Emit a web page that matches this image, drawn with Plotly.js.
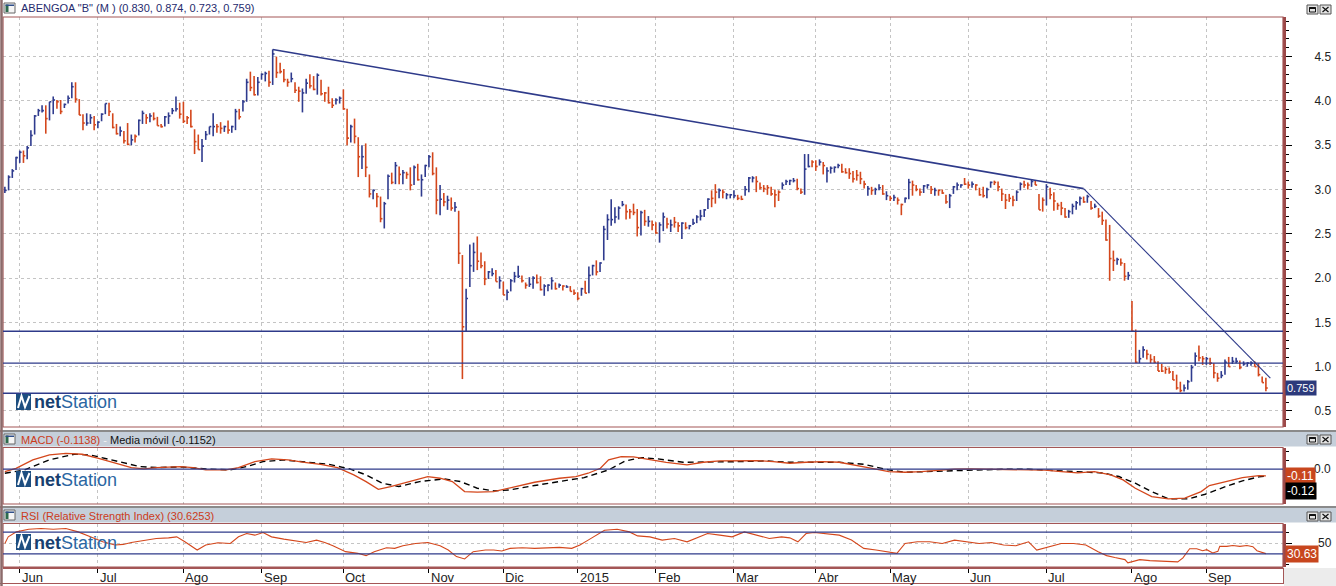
<!DOCTYPE html>
<html><head><meta charset="utf-8">
<script src="https://cdn.plot.ly/plotly-3.0.1.min.js"></script>
<style>html,body{margin:0;padding:0;background:#fff;overflow:hidden}#chart{width:1336px;height:586px}</style>
</head><body><div id="chart"></div>
<script>
// ---------- DATA ----------
const highs = [
3.03,3.16,3.23,3.37,3.44,3.44,3.49,3.67,3.84,3.91,
3.95,3.95,3.99,4.05,4.01,4.01,3.97,4.06,4.21,4.21,
4.02,3.85,3.86,3.85,3.83,3.77,3.86,3.97,3.98,3.86,
3.74,3.71,3.66,3.75,3.62,3.62,3.79,3.89,3.85,3.86,
3.87,3.82,3.74,3.83,3.87,3.92,4.05,3.98,3.99,3.83,
3.90,3.68,3.62,3.57,3.66,3.71,3.86,3.74,3.76,3.72,
3.78,3.72,3.91,3.91,4.01,4.25,4.33,4.28,4.27,4.31,
4.33,4.34,4.58,4.50,4.43,4.36,4.25,4.32,4.21,4.16,
4.14,4.25,4.30,4.28,4.31,4.24,4.10,4.16,4.03,4.03,
4.05,4.13,3.91,3.73,3.80,3.59,3.50,3.52,3.17,3.00,
2.96,2.92,2.86,3.17,3.19,3.31,3.26,3.22,3.20,3.25,
3.27,3.29,3.17,3.28,3.39,3.42,3.25,3.05,2.96,2.93,
2.91,2.86,2.76,2.26,1.88,2.38,2.40,2.47,2.29,2.19,
2.08,2.11,2.09,2.02,1.96,1.87,1.99,2.07,2.14,2.03,
1.95,2.01,2.02,2.04,2.02,1.93,1.93,2.01,1.95,1.94,
1.92,1.92,1.91,1.87,1.84,1.89,1.97,2.13,2.15,2.20,
2.18,2.59,2.72,2.89,2.80,2.81,2.87,2.83,2.78,2.84,
2.78,2.76,2.77,2.70,2.65,2.63,2.63,2.74,2.68,2.66,
2.69,2.63,2.63,2.63,2.60,2.67,2.71,2.77,2.78,2.90,
2.99,3.06,3.01,3.00,2.96,2.95,2.99,2.94,2.93,3.04,
3.14,3.15,3.15,3.08,3.05,3.05,3.03,3.00,2.99,3.08,
3.11,3.11,3.13,3.12,3.01,3.40,3.40,3.33,3.33,3.34,
3.31,3.25,3.26,3.26,3.29,3.29,3.24,3.24,3.21,3.22,
3.20,3.10,3.04,3.03,3.02,3.06,3.05,2.98,2.93,2.94,
2.91,2.84,2.91,3.12,3.10,3.05,3.01,3.05,3.06,3.04,
3.02,3.00,3.00,2.94,2.95,3.04,3.08,3.06,3.13,3.09,
3.09,3.06,3.02,3.03,3.02,3.09,3.10,3.09,3.01,2.95,
2.95,2.93,2.99,3.08,3.10,3.08,3.11,3.10,2.95,2.91,
3.06,3.02,2.97,2.85,2.86,2.79,2.77,2.84,2.87,2.92,
2.92,2.94,2.87,2.84,2.79,2.75,2.66,2.60,2.31,2.23,
2.22,2.17,2.07,1.74,1.42,1.19,1.23,1.19,1.14,1.12,
1.06,1.03,1.00,0.99,0.95,0.91,0.83,0.80,0.85,1.02,
1.16,1.24,1.12,1.11,1.10,1.04,0.93,0.95,1.08,1.11,
1.11,1.10,1.07,1.06,1.05,1.06,1.06,1.04,0.89,0.874];
const lows = [
2.96,2.99,3.13,3.22,3.30,3.30,3.34,3.49,3.62,3.83,
3.87,3.63,3.78,3.85,3.91,3.85,3.92,3.97,4.03,3.98,
3.84,3.67,3.72,3.74,3.67,3.69,3.77,3.85,3.83,3.69,
3.62,3.60,3.52,3.50,3.50,3.53,3.61,3.74,3.74,3.76,
3.78,3.72,3.70,3.71,3.74,3.85,3.88,3.80,3.75,3.74,
3.70,3.40,3.45,3.31,3.56,3.62,3.60,3.64,3.63,3.65,
3.63,3.64,3.67,3.79,3.88,3.99,4.11,4.06,4.06,4.24,
4.22,4.16,4.18,4.26,4.31,4.21,4.16,4.21,4.09,3.99,
3.87,4.08,4.14,4.12,4.07,4.06,3.99,3.97,3.92,3.96,
3.97,3.90,3.50,3.53,3.52,3.14,3.23,3.14,2.91,2.89,
2.80,2.63,2.56,2.89,3.06,3.06,3.06,3.06,3.12,2.99,
3.05,3.10,2.92,3.14,3.25,3.16,2.72,2.71,2.81,2.77,
2.76,2.75,2.16,0.86,1.40,1.90,2.07,2.09,2.11,1.92,
1.99,2.02,1.96,1.88,1.81,1.75,1.85,1.95,2.00,1.95,
1.88,1.90,1.88,1.94,1.86,1.80,1.85,1.87,1.87,1.89,
1.86,1.89,1.85,1.81,1.75,1.80,1.83,1.83,2.03,2.03,
2.07,2.20,2.43,2.59,2.62,2.66,2.81,2.66,2.67,2.71,
2.47,2.48,2.59,2.58,2.54,2.50,2.40,2.53,2.56,2.52,
2.57,2.52,2.44,2.55,2.55,2.60,2.62,2.65,2.69,2.78,
2.80,2.84,2.90,2.90,2.89,2.90,2.90,2.88,2.88,2.93,
2.97,3.08,2.97,3.00,2.97,2.94,2.93,2.80,2.87,3.00,
3.05,3.05,3.08,2.99,2.95,2.94,3.25,3.25,3.21,3.27,
3.17,3.08,3.18,3.19,3.24,3.19,3.18,3.12,3.08,3.10,
3.06,3.01,2.93,2.94,2.94,2.99,2.94,2.88,2.87,2.87,
2.83,2.71,2.85,2.89,2.93,2.98,2.93,2.96,3.01,2.95,
2.93,2.93,2.95,2.84,2.79,2.95,2.99,3.02,3.05,3.01,
3.02,2.99,2.93,2.91,2.90,3.02,3.05,2.98,2.87,2.78,
2.86,2.81,2.87,2.99,3.02,3.00,3.03,3.05,2.77,2.75,
2.82,2.89,2.76,2.77,2.71,2.68,2.68,2.72,2.77,2.82,
2.85,2.85,2.77,2.79,2.68,2.60,2.42,1.97,2.08,2.15,
2.14,1.97,1.98,1.40,1.04,1.04,1.10,1.08,1.04,1.04,
0.95,0.94,0.92,0.92,0.85,0.74,0.71,0.72,0.74,0.83,
1.01,1.06,1.02,1.02,1.02,0.87,0.83,0.87,0.91,1.00,
1.03,1.04,0.97,1.01,1.00,1.01,1.00,0.89,0.82,0.723];
const closes = [
2.99,3.14,3.21,3.36,3.42,3.38,3.47,3.61,3.83,3.89,
3.89,3.80,3.99,4.01,3.99,3.88,3.96,4.03,4.16,4.02,
3.84,3.75,3.75,3.81,3.73,3.76,3.85,3.97,3.88,3.70,
3.63,3.66,3.55,3.51,3.56,3.60,3.78,3.86,3.81,3.83,
3.80,3.72,3.71,3.82,3.83,3.89,3.91,3.85,3.77,3.81,
3.71,3.54,3.45,3.49,3.62,3.71,3.71,3.71,3.69,3.71,
3.67,3.71,3.88,3.82,3.99,4.21,4.15,4.07,4.21,4.30,
4.31,4.21,4.53,4.32,4.33,4.24,4.21,4.25,4.12,4.11,
4.09,4.20,4.17,4.13,4.29,4.08,4.09,3.98,3.95,4.01,
4.03,3.91,3.58,3.71,3.60,3.37,3.37,3.25,2.95,2.99,
2.92,2.67,2.84,3.15,3.08,3.27,3.17,3.19,3.17,3.05,
3.25,3.11,3.11,3.27,3.37,3.18,2.88,2.89,2.86,2.88,
2.79,2.80,2.28,1.45,1.77,2.14,2.29,2.19,2.14,1.99,
2.07,2.05,1.96,1.97,1.81,1.84,1.97,2.02,2.02,1.97,
1.92,1.93,2.00,1.95,1.87,1.91,1.92,1.97,1.88,1.92,
1.91,1.90,1.85,1.83,1.77,1.88,1.83,2.03,2.14,2.07,
2.17,2.55,2.66,2.66,2.69,2.79,2.83,2.75,2.75,2.74,
2.57,2.74,2.64,2.64,2.60,2.51,2.60,2.69,2.61,2.60,
2.63,2.59,2.62,2.57,2.59,2.62,2.69,2.70,2.77,2.89,
2.90,2.97,2.99,2.97,2.94,2.94,2.93,2.90,2.89,3.00,
3.13,3.13,3.09,3.02,3.01,3.02,2.95,2.94,2.97,3.05,
3.09,3.10,3.10,3.01,2.97,3.23,3.26,3.31,3.26,3.31,
3.27,3.21,3.24,3.25,3.27,3.20,3.19,3.18,3.12,3.16,
3.12,3.06,3.01,2.99,3.00,3.02,2.95,2.93,2.90,2.91,
2.88,2.83,2.90,3.08,3.05,3.00,2.97,3.04,3.05,3.00,
2.99,2.99,2.96,2.86,2.93,3.03,3.05,3.05,3.06,3.05,
3.06,3.05,2.94,2.93,3.00,3.08,3.08,3.03,2.95,2.88,
2.90,2.88,2.97,3.06,3.05,3.05,3.09,3.05,2.77,2.88,
3.03,2.94,2.87,2.82,2.79,2.69,2.75,2.81,2.85,2.90,
2.86,2.92,2.79,2.81,2.70,2.65,2.43,2.22,2.20,2.21,
2.17,2.02,2.03,1.40,1.05,1.09,1.19,1.14,1.08,1.05,
0.95,0.95,0.97,0.94,0.85,0.76,0.73,0.76,0.83,0.99,
1.12,1.10,1.09,1.09,1.04,0.93,0.87,0.90,1.05,1.00,
1.06,1.06,0.99,1.03,1.04,1.04,1.00,0.91,0.82,0.759];
// bar colour: u = blue, d = red
const barDir = ["uuuuuduuuu","uduudduuud","dduuduuudd","dudduduudu","ddduuuuddd",
"ddduuuuddu","duuduudduu","ududdddudd","uudduddddu","uddudduddu",
"dduudududd","uduuuddudu","dudduuuddd","uududuuuud","duudduuudu",
"duddduduud","uuuuuuuddd","dududduudu","dduduuuuuu","dduduuuddu",
"uudddddddu","uuudduuddu","duuuuddddd","dduduududu","dduuddduud",
"uddduuuudd","uddduudddd","dduudduddd","uddddduuuu","dudu"+"ddddd"+"u",
"ddudduuddd","ddddddduuu","udduddduud","uuduuudddd"].join('');

const monthTickIdx = [4, 25, 48, 69, 91, 114, 134, 154, 175, 196, 218, 238, 259, 280, 303, 323];
const monthLabels = ["Jun","Jul","Ago","Sep","Oct","Nov","Dic","2015","Feb","Mar","Abr","May","Jun","Jul","Ago","Sep"];

const trend1X = [72, 290], trend1Y = [4.58, 3.01];
const trend2X = [290, 340.2], trend2Y = [3.01, 0.87];
const levels = [1.40, 1.04, 0.70];

const macdX = [0,3,7.5,12,16.4,20.8,25.2,29.6,34,37.4,40.7,47.3,50.6,54,59.5,62.8,67.2,71.7,76.1,80.5,84.9,89.4,93.8,97.1,100.4,103.7,108.2,113.7,117,120.3,123.6,127,131.4,136.9,142.4,149.1,153.5,156.8,160.1,162.3,165.7,169,173.4,177.8,183.4,187.8,192.2,197.7,202.2,206.6,211,215.4,219.9,224.3,228.7,233.1,237.6,242,246.4,250.8,255.3,259.7,264.1,268.5,275.2,279.6,284,288.4,292.9,297.3,300.6,303.9,308.3,312.8,317.2,321.6,323.8,328.2,332.7,337.1,339];
const macdVal = [-0.04,0.016,0.158,0.242,0.27,0.254,0.186,0.101,0.028,0.005,0.028,0.045,0.028,-0.012,-0.012,0.028,0.129,0.175,0.158,0.118,0.084,0.028,-0.096,-0.21,-0.34,-0.294,-0.221,-0.125,-0.153,-0.21,-0.379,-0.39,-0.379,-0.294,-0.221,-0.153,-0.125,-0.068,0.016,0.158,0.214,0.209,0.158,0.118,0.073,0.118,0.141,0.141,0.146,0.129,0.101,0.118,0.129,0.118,0.073,0.016,-0.04,-0.051,-0.04,-0.017,0,0.005,0,0.005,0,-0.017,-0.04,-0.063,-0.04,-0.096,-0.181,-0.323,-0.464,-0.503,-0.492,-0.379,-0.277,-0.21,-0.142,-0.108,-0.114];
const sigX = [0,5.3,11.9,18.6,23,27.4,31.8,36.3,40.7,47.3,54,60.6,65,69.4,75,80.5,87.1,92.7,97.1,101.5,105.9,111.5,118.1,122.5,127,131.4,135.8,142.4,149.1,155.7,162.3,166.8,171.2,175.6,182.3,188.9,197.7,204.4,211,217.6,224.3,230.9,237.6,242,248.6,255.3,261.9,268.5,275.2,281.8,288.4,295.1,299.5,303.9,308.3,312.8,318.3,322.7,328.2,332.7,337.1,339];
const sigVal = [-0.068,-0.012,0.158,0.254,0.242,0.175,0.101,0.045,0.028,0.039,0.005,-0.012,0.045,0.129,0.158,0.129,0.084,0.005,-0.096,-0.238,-0.294,-0.21,-0.164,-0.21,-0.323,-0.368,-0.351,-0.277,-0.21,-0.142,-0.012,0.141,0.197,0.175,0.118,0.118,0.129,0.141,0.118,0.118,0.118,0.084,-0.012,-0.051,-0.04,-0.017,-0.006,0,0,-0.017,-0.04,-0.063,-0.124,-0.238,-0.379,-0.503,-0.503,-0.424,-0.294,-0.198,-0.13,-0.115];

const rsiX = [0,0.9,3.1,6.4,9.7,13,16.4,19.7,23,26.3,29.6,31.8,34,37.4,40.7,44,46.2,48.4,51.7,54,57.3,60.6,62.8,65,67.2,69.4,71.7,75,78.3,81,83.8,86,88.2,91.6,94.9,97.1,99.3,102.6,104.8,107,110.4,113.7,117,119.2,121.4,123.6,125.9,129.2,131.4,133.6,135.8,139.1,142.4,145.8,149.1,152.4,154.6,156.8,159,161.2,164.6,167.9,170.1,173.4,176.7,180,183.4,186.7,188.9,192.2,195.5,198.8,202.2,205.5,208.8,211,213.2,215.4,217.6,221,224.3,227.6,230.9,234.2,237.6,239.8,242,245.3,248.6,252,255.3,258.6,261.9,265.2,268.5,271.8,275.2,277.4,280.7,284,287.3,290.6,293.9,296.2,298.4,301.1,301.9,303.2,305.1,307.8,312.4,315.3,316.7,317.7,318.5,320.4,322,323.1,324.7,326.1,326.6,328.5,330.1,332,333.9,335.5,336.6,339];
const rsiVal = [49.3,61.4,70.5,75.4,76.6,75.4,76.6,70.5,61.4,52.3,46.3,47.5,51.1,55.4,58.4,59.6,61.4,52.3,37.2,46.3,50.5,49.3,61.4,67.5,64.5,69.3,61.4,57.2,53.6,51.1,55.4,51.1,45.1,34.2,31.1,26.9,34.2,41.4,40.2,45.1,49.3,51.1,45.1,37.2,25.1,20.8,34.2,37.2,37.2,35.4,40.2,41.4,40.2,41.4,42.0,40.2,46.3,55.4,64.5,73.5,75.4,70.5,63.2,61.4,55.4,58.4,52.3,61.4,67.5,64.5,61.4,70.5,64.5,58.4,61.4,59.6,52.3,67.5,69.3,67.5,64.5,55.4,40.2,37.2,34.2,31.1,49.3,52.3,52.3,49.3,55.4,52.3,49.3,51.1,46.3,45.1,52.3,37.2,43.3,49.3,49.3,46.3,34.2,26.9,23.3,19.6,13.6,16.5,19.6,17.8,16.5,15.5,22.7,31.8,39.6,39.6,36,37.8,31.8,34.7,43.9,43.9,45.6,43.9,45.6,43.3,36,30.6];

const macdTickVals = [0], macdTickText = ['0.0'];
const rsiTickVals = [50], rsiTickText = ['50'];

// ---------- DRAWING ----------
const W = 1336, H = 586;
const px = x => x / W, py = y => 1 - y / H;
const FONT = 'Liberation Sans, Arial, sans-serif';
const UP = '#2f3b8e', DOWN = '#d4471c', NAVY = '#2e3a8a', FRAME = '#a45656';
const XR = [-0.5, 343.6];
const PAD = '\u00a0'.repeat(6);

function barTrace(dirChar, color) {
  const xs = [], ys = [];
  for (let i = 0; i < closes.length; i++) {
    let d = barDir[i] || (i > 0 && closes[i] < closes[i-1] ? 'd' : 'u');
    if (d !== dirChar) continue;
    xs.push(i, i, null, i, i + 0.5, null);
    ys.push(lows[i], highs[i], null, closes[i], closes[i], null);
  }
  return {type:'scatter', mode:'lines', x:xs, y:ys, xaxis:'x', yaxis:'y',
          line:{color:color, width:1.6}, hoverinfo:'skip', connectgaps:false};
}

const traces = [
  barTrace('u', UP), barTrace('d', DOWN),
  {type:'scatter', mode:'lines', x:trend1X, y:trend1Y, xaxis:'x', yaxis:'y', line:{color:NAVY, width:1.6}, hoverinfo:'skip'},
  {type:'scatter', mode:'lines', x:trend2X, y:trend2Y, xaxis:'x', yaxis:'y', line:{color:NAVY, width:1.1}, hoverinfo:'skip'},
  {type:'scatter', mode:'lines', x:sigX, y:sigVal, xaxis:'x2', yaxis:'y2', line:{color:'#000', width:1.4, dash:'6px,4px'}, hoverinfo:'skip'},
  {type:'scatter', mode:'lines', x:macdX, y:macdVal, xaxis:'x2', yaxis:'y2', line:{color:'#d4471c', width:1.3}, hoverinfo:'skip'},
  {type:'scatter', mode:'lines', x:rsiX, y:rsiVal, xaxis:'x3', yaxis:'y3', line:{color:'#d4471c', width:1.1}, hoverinfo:'skip'}
];

const xdom = [px(3), px(1283)];
const gridX = {range:XR, domain:xdom, tickvals:monthTickIdx, showgrid:true, gridcolor:'#c4c4c4', griddash:'3px,3px', gridwidth:1, zeroline:false, showline:false, fixedrange:true};
const yCommon = {side:'right', ticks:'outside', ticklen:6, tickcolor:'#000', tickwidth:1, showline:true, linecolor:'#9c4848', linewidth:3, zeroline:false, fixedrange:true,
  tickfont:{size:12, color:'#222', family:FONT}};

const layout = {
  width:W, height:H, margin:{l:0, r:0, t:0, b:0}, showlegend:false,
  paper_bgcolor:'#ffffff', plot_bgcolor:'rgba(0,0,0,0)', font:{family:FONT, size:11, color:'#222'},
  xaxis: Object.assign({}, gridX, {anchor:'y', showticklabels:false, ticks:''}),
  xaxis2: Object.assign({}, gridX, {anchor:'y2', showticklabels:false, ticks:''}),
  xaxis3: Object.assign({}, gridX, {anchor:'y3', showticklabels:false, ticks:'outside', ticklen:5, tickcolor:'#000'}),
  yaxis: Object.assign({}, yCommon, {anchor:'x', domain:[py(427), py(17)], range:[0.319, 4.947], tick0:0, dtick:0.5, tickformat:'.1f', tickprefix:PAD,
          showgrid:true, gridcolor:'#c4c4c4', griddash:'3px,3px',
          minor:{dtick:0.1, tick0:0, ticks:'outside', ticklen:3, tickcolor:'#000', showgrid:false}}),
  yaxis2: Object.assign({}, yCommon, {anchor:'x2', domain:[py(504), py(448)], range:[-0.59, 0.36], tickvals:macdTickVals, showticklabels:false, showgrid:false,
          minor:{tick0:0, dtick:0.15, ticks:'outside', ticklen:3, tickcolor:'#000', showgrid:false}}),
  yaxis3: Object.assign({}, yCommon, {anchor:'x3', domain:[py(567), py(524)], range:[6, 85], tickvals:rsiTickVals, showticklabels:false,
          showgrid:true, gridcolor:'#c4c4c4', griddash:'3px,3px',
          minor:{tick0:10, dtick:20, ticks:'outside', ticklen:3, tickcolor:'#000', showgrid:false}}),
  shapes:[], annotations:[]
};
const S = layout.shapes, A = layout.annotations;
function rect(x0,y0,x1,y1,fill,line,lw,layer){S.push({type:'rect',xref:'paper',yref:'paper',x0:px(x0),x1:px(x1),y0:py(y1),y1:py(y0),fillcolor:fill||'rgba(0,0,0,0)',line:{color:line||'rgba(0,0,0,0)',width:lw||0},layer:layer||'above'});}
function hline(x0,x1,y,color,w){S.push({type:'line',xref:'paper',yref:'paper',x0:px(x0),x1:px(x1),y0:py(y),y1:py(y),line:{color:color,width:w}});}
function vline(x,y0,y1,color,w){S.push({type:'line',xref:'paper',yref:'paper',x0:px(x),x1:px(x),y0:py(y0),y1:py(y1),line:{color:color,width:w}});}
function ann(x,y,text,opts){A.push(Object.assign({xref:'paper',yref:'paper',x:px(x),y:py(y),text:text,showarrow:false,xanchor:'left',yanchor:'middle',font:{size:11,color:'#222',family:FONT}},opts||{}));}

// month labels on the time axis (left-aligned just after each tick, as in the reference)
monthTickIdx.forEach((t, k) => A.push({xref:'x3', yref:'paper', x:t, y:py(577), xshift:0, text:monthLabels[k], showarrow:false,
  xanchor:'left', yanchor:'middle', font:{size:13, color:'#222', family:FONT}}));
// indicator axis labels
macdTickVals.forEach((v, k) => A.push({xref:'paper', yref:'y2', x:px(1312), y:v, text:macdTickText[k], showarrow:false, xanchor:'left', yanchor:'middle', font:{size:12, color:'#222', family:FONT}}));
rsiTickVals.forEach((v, k) => A.push({xref:'paper', yref:'y3', x:px(1316), y:v, text:rsiTickText[k], showarrow:false, xanchor:'left', yanchor:'middle', font:{size:12, color:'#222', family:FONT}}));

// header strips & separators
rect(0,430,1336,432,'#8a8a8a',null,0,'below');
rect(0,432,1336,446.5,'#c5cfda',null,0,'below');
rect(0,506,1336,508,'#8a8a8a',null,0,'below');
rect(0,508,1336,522.5,'#c5cfda',null,0,'below');
rect(1284,568,1336,586,'#ececec',null,0,'below');
// panel frames
rect(3,17,1283,427,null,FRAME,1.2);
rect(3,447.5,1283,504,null,FRAME,1.2);
rect(3,523.5,1283,567,null,FRAME,1.2);
hline(3,1283,568,FRAME,2);
hline(0,1284,583.5,FRAME,1);
vline(1283.5,568,584,FRAME,1);
vline(1.5,0,586,'#8c6b6b',2.5);
// horizontal support lines on price panel
levels.forEach(v => S.push({type:'line',xref:'paper',yref:'y',x0:px(3),x1:px(1283),y0:v,y1:v,line:{color:NAVY,width:1.3}}));
// MACD zero line, RSI 70/30 lines
S.push({type:'line',xref:'paper',yref:'y2',x0:px(3),x1:px(1283),y0:0,y1:0,line:{color:NAVY,width:1.3}});
[70,30].forEach(v => S.push({type:'line',xref:'paper',yref:'y3',x0:px(3),x1:px(1283),y0:v,y1:v,line:{color:NAVY,width:1.3}}));

// header icons and window buttons
function headerIcon(yt){
  rect(4,yt,15,yt+10,'#f5f5f5','#666',1);
  rect(5.5,yt+1.5,8.5,yt+9,'#2e6b4d',null,0);
  rect(5.5,yt+1.5,14,yt+3,'#2f4f8a',null,0);
}
function buttons(yt){
  rect(1307,yt,1318,yt+9,'#e4e4e4','#555',1);
  rect(1309.5,yt+2.5,1315.5,yt+7,null,'#111',1);
  hline(1309.5,1315.5,yt+3,'#111',2);
  rect(1320,yt,1331,yt+9,'#e4e4e4','#555',1);
  S.push({type:'line',xref:'paper',yref:'paper',x0:px(1322.5),x1:px(1328.5),y0:py(yt+2),y1:py(yt+7),line:{color:'#111',width:1.2}});
  S.push({type:'line',xref:'paper',yref:'paper',x0:px(1322.5),x1:px(1328.5),y0:py(yt+7),y1:py(yt+2),line:{color:'#111',width:1.2}});
}
headerIcon(3); headerIcon(434); headerIcon(510);
buttons(5); buttons(435); buttons(512);

ann(19,7.5,'ABENGOA "B" (M ) (0.830, 0.874, 0.723, 0.759)',{font:{size:11,color:'#262b6e',family:FONT}});
ann(19,439.5,'<span style="color:#cc3b1a">MACD (-0.1138)</span><span style="color:#f4f4f4"> - </span><span style="color:#111">Media móvil (-0.1152)</span>');
ann(19,515.5,'RSI (Relative Strength Index) (30.6253)',{font:{size:11,color:'#cc3b1a',family:FONT}});

// netStation logos
function logo(yc){
  rect(16,yc-8,31,yc+8,'#1d4e80',null,0);
  S.push({type:'path',xref:'paper',yref:'paper',
    path:`M ${px(18)},${py(yc+6)} L ${px(21.5)},${py(yc-6)} L ${px(25)},${py(yc+5)} L ${px(29.5)},${py(yc-6)}`,
    line:{color:'#ffffff',width:2}});
  ann(31.5,yc+0.5,'<b><span style="color:#173f70">net</span></b><span style="color:#2a66a2">Station</span>',{font:{size:18,family:FONT}});
}
logo(402); logo(479); logo(542);

// last value boxes
A.push({xref:'paper',yref:'y',x:px(1285),y:0.759,text:'0.759',showarrow:false,xanchor:'left',yanchor:'middle',bgcolor:'#2c3a7c',borderpad:1,font:{size:11,color:'#fff',family:FONT}});
A.push({xref:'paper',yref:'y2',x:px(1285),y:-0.1138,text:'-0.11',showarrow:false,xanchor:'left',yanchor:'middle',bgcolor:'#c8461e',borderpad:1,font:{size:12,color:'#fff',family:FONT}});
A.push({xref:'paper',yref:'y2',x:px(1285),y:-0.1152,yshift:-15,text:'-0.12',showarrow:false,xanchor:'left',yanchor:'middle',bgcolor:'#000',borderpad:1,font:{size:12,color:'#fff',family:FONT}});
A.push({xref:'paper',yref:'y3',x:px(1285),y:30.63,text:'30.63',showarrow:false,xanchor:'left',yanchor:'middle',bgcolor:'#c8461e',borderpad:1,font:{size:12,color:'#fff',family:FONT}});

Plotly.newPlot('chart', traces, layout, {staticPlot:true, displayModeBar:false});
</script>
</body></html>
